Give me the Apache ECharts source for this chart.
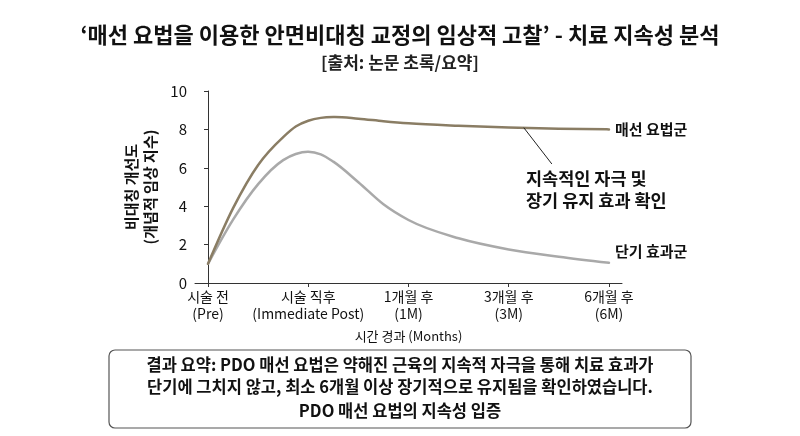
<!DOCTYPE html>
<html>
<head>
<meta charset="utf-8">
<script src="https://cdn.jsdelivr.net/npm/echarts@6/dist/echarts.min.js"></script>
<style>
  html, body { margin: 0; padding: 0; background: #fff; }
  #main { width: 800px; height: 436px; }
</style>
</head>
<body>
<div id="main"></div>
<script>
// 눈금 위치(0=시술 전 ... 4=6개월 후)와 라벨
var tickPos = [0, 1, 2, 3, 4];
var tickLabels = ['시술 전\n(Pre)', '시술 직후\n(Immediate Post)', '1개월 후\n(1M)', '3개월 후\n(3M)', '6개월 후\n(6M)'];

// 그림에서 읽은 곡선 위의 점들 (x 위치, 값)
var xPos = [0, 0.25, 0.5, 0.75, 0.875, 1, 1.125, 1.25, 1.5, 1.75, 2, 2.5, 3, 3.5, 4];
var threadValues = [1.0, 3.9, 6.15, 7.6, 8.15, 8.45, 8.6, 8.65, 8.56, 8.43, 8.32, 8.19, 8.1, 8.04, 8.0];
var shortValues = [1.0, 3.3, 5.15, 6.4, 6.72, 6.84, 6.7, 6.32, 5.25, 4.1, 3.28, 2.33, 1.75, 1.37, 1.05];

var seriesNames = ['매선 요법군', '단기 효과군'];
var seriesColors = ['#8a7d64', '#a9a9a9'];

// 주석 선: 곡선 위 점 -> 글자 쪽
var noteFrom = [3.15, 8.09];
var noteTo = [3.43, 6.2];

var FONT = '"Noto Sans CJK KR", "Noto Sans", sans-serif';

function pairs(xs, ys) {
  var out = [];
  for (var i = 0; i < xs.length; i++) out.push([xs[i], ys[i]]);
  return out;
}

// 읽은 점들을 지나는 부드러운 곡선 (3차 베지어, 좌표는 축 스케일로 변환)
function curvePath(xs, ys, api) {
  var n = xs.length, h = [], d = [], m = [];
  for (var i = 0; i < n - 1; i++) {
    h[i] = xs[i + 1] - xs[i];
    d[i] = (ys[i + 1] - ys[i]) / h[i];
  }
  for (var j = 1; j < n - 1; j++) {
    m[j] = (d[j - 1] * h[j] + d[j] * h[j - 1]) / (h[j - 1] + h[j]);
  }
  m[0] = (3 * d[0] - m[1]) / 2;
  m[n - 1] = (3 * d[n - 2] - m[n - 2]) / 2;
  var p = api.coord([xs[0], ys[0]]);
  var s = 'M' + p[0] + ' ' + p[1];
  for (var k = 0; k < n - 1; k++) {
    var c1 = api.coord([xs[k] + h[k] / 3, ys[k] + m[k] * h[k] / 3]);
    var c2 = api.coord([xs[k + 1] - h[k] / 3, ys[k + 1] - m[k + 1] * h[k] / 3]);
    var e = api.coord([xs[k + 1], ys[k + 1]]);
    s += ' C' + c1[0] + ' ' + c1[1] + ' ' + c2[0] + ' ' + c2[1] + ' ' + e[0] + ' ' + e[1];
  }
  return s;
}

function makeSeries(idx, values, labelOffsetY, withNote) {
  return {
    name: seriesNames[idx],
    type: 'custom',
    data: pairs(xPos, values),
    z: 3 - idx,
    renderItem: function (params, api) {
      if (params.dataIndex !== 0) return;
      var last = api.coord([xPos[xPos.length - 1], values[values.length - 1]]);
      var children = [{
        type: 'path',
        shape: { pathData: curvePath(xPos, values, api) },
        style: { fill: 'none', stroke: seriesColors[idx], lineWidth: 2.5, lineCap: 'round', lineJoin: 'round' }
      }, {
        type: 'text',
        x: last[0] + 6, y: last[1] + labelOffsetY,
        style: {
          text: seriesNames[idx], fill: '#111', fontSize: 15, fontWeight: 'bold', fontFamily: FONT,
          verticalAlign: 'middle', align: 'left'
        }
      }];
      if (withNote) {
        var a = api.coord(noteFrom), b = api.coord(noteTo);
        children.push({
          type: 'line',
          shape: { x1: a[0], y1: a[1], x2: b[0], y2: b[1] },
          style: { stroke: '#222', lineWidth: 1 }
        });
      }
      return { type: 'group', children: children };
    }
  };
}

var chart = echarts.init(document.getElementById('main'));

var option = {
  animation: false,
  backgroundColor: '#fff',
  textStyle: { fontFamily: FONT },
  title: [{
    text: '‘매선 요법을 이용한 안면비대칭 교정의 임상적 고찰’ - 치료 지속성 분석',
    left: 'center', top: 19,
    textStyle: { fontFamily: FONT, fontSize: 22, fontWeight: 'bold', color: '#111' }
  }, {
    text: '[출처: 논문 초록/요약]',
    left: 'center', top: 49,
    textStyle: { fontFamily: FONT, fontSize: 17, fontWeight: 'bold', color: '#222' }
  }],
  grid: { left: 195, right: 178, top: 91, bottom: 153 },
  xAxis: {
    type: 'value',
    min: -0.13, max: 4.13,
    splitLine: { show: false },
    axisLine: { lineStyle: { color: '#333', width: 1 } },
    axisTick: { show: true, length: 4, customValues: tickPos, lineStyle: { color: '#333' } },
    axisLabel: {
      customValues: tickPos,
      color: '#111', fontSize: 14, lineHeight: 17, margin: 5,
      formatter: function (v) { return tickLabels[Math.round(v)]; }
    },
    name: '시간 경과 (Months)',
    nameLocation: 'middle', nameGap: 47,
    nameTextStyle: { color: '#111', fontSize: 13 }
  },
  yAxis: {
    type: 'value',
    min: 0, max: 10, interval: 2,
    splitLine: { show: false },
    axisLine: { show: true, lineStyle: { color: '#333', width: 1 } },
    axisTick: { show: true, length: 4, lineStyle: { color: '#333' } },
    axisLabel: { color: '#111', fontSize: 15, margin: 8 },
    name: '비대칭 개선도\n(개념적 임상 지수)',
    nameLocation: 'middle', nameGap: 34,
    nameTextStyle: { color: '#111', fontSize: 15, fontWeight: 'bold', lineHeight: 19 }
  },
  series: [
    makeSeries(0, threadValues, 0, true),
    makeSeries(1, shortValues, -12, false)
  ],
  graphic: [{
    type: 'text',
    left: 526, top: 167,
    style: {
      text: '지속적인 자극 및\n장기 유지 효과 확인',
      fontFamily: FONT, fontSize: 17.5, fontWeight: 'bold', lineHeight: 22, fill: '#111'
    }
  }, {
    type: 'rect',
    shape: { x: 109, y: 350, width: 582, height: 78, r: 6 },
    style: { fill: '#fff', stroke: '#555', lineWidth: 1.2 }
  }, {
    type: 'text',
    x: 400, y: 354,
    style: {
      text: '결과 요약: PDO 매선 요법은 약해진 근육의 지속적 자극을 통해 치료 효과가\n단기에 그치지 않고, 최소 6개월 이상 장기적으로 유지됨을 확인하였습니다.',
      align: 'center', fontFamily: FONT, fontSize: 16.5, fontWeight: 'bold', lineHeight: 22, fill: '#111'
    }
  }, {
    type: 'text',
    x: 400, y: 400,
    style: {
      text: 'PDO 매선 요법의 지속성 입증',
      align: 'center', fontFamily: FONT, fontSize: 16.5, fontWeight: 'bold', lineHeight: 22, fill: '#111'
    }
  }]
};

chart.setOption(option);
</script>
</body>
</html>
